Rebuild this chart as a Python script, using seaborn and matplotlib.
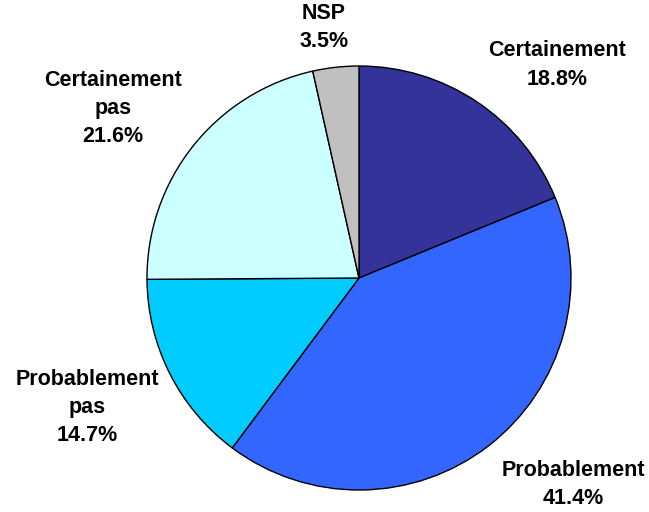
import matplotlib
matplotlib.use("Agg")
import matplotlib.pyplot as plt
import seaborn as sns

categories = ["Certainement", "Probablement", "Probablement\npas", "Certainement\npas", "NSP"]
values = [18.8, 41.4, 14.7, 21.6, 3.5]
colors = ["#333399", "#3366FF", "#00CCFF", "#CCFFFF", "#C0C0C0"]
# label positions in units of the pie radius
label_pos = [(0.934, 1.005), (1.01, -0.975), (-1.28, -0.61), (-1.16, 0.80), (-0.165, 1.18)]

sns.set_theme(style="white")
plt.rcParams['font.family'] = ['Liberation Sans', 'DejaVu Sans']

W, H = 649, 512
fig = plt.figure(figsize=(W / 100, H / 100), dpi=100)
cx, cy, r = 359, 278, 212
ax = fig.add_axes([(cx - r) / W, (H - cy - r) / H, 2 * r / W, 2 * r / H])
ax.pie(values, colors=colors, startangle=90, counterclock=False,
       wedgeprops=dict(edgecolor="black", linewidth=1.0))
ax.set_xlim(-1, 1)
ax.set_ylim(-1, 1)
ax.set_aspect("equal")
ax.axis("off")

for cat, val, (x, y) in zip(categories, values, label_pos):
    ax.text(x, y, f"{cat}\n{val:.1f}%", ha="center", va="center",
            fontsize=15.5, fontweight="bold", color="black",
            linespacing=1.45, clip_on=False)

fig.savefig("out.png", dpi=100)
